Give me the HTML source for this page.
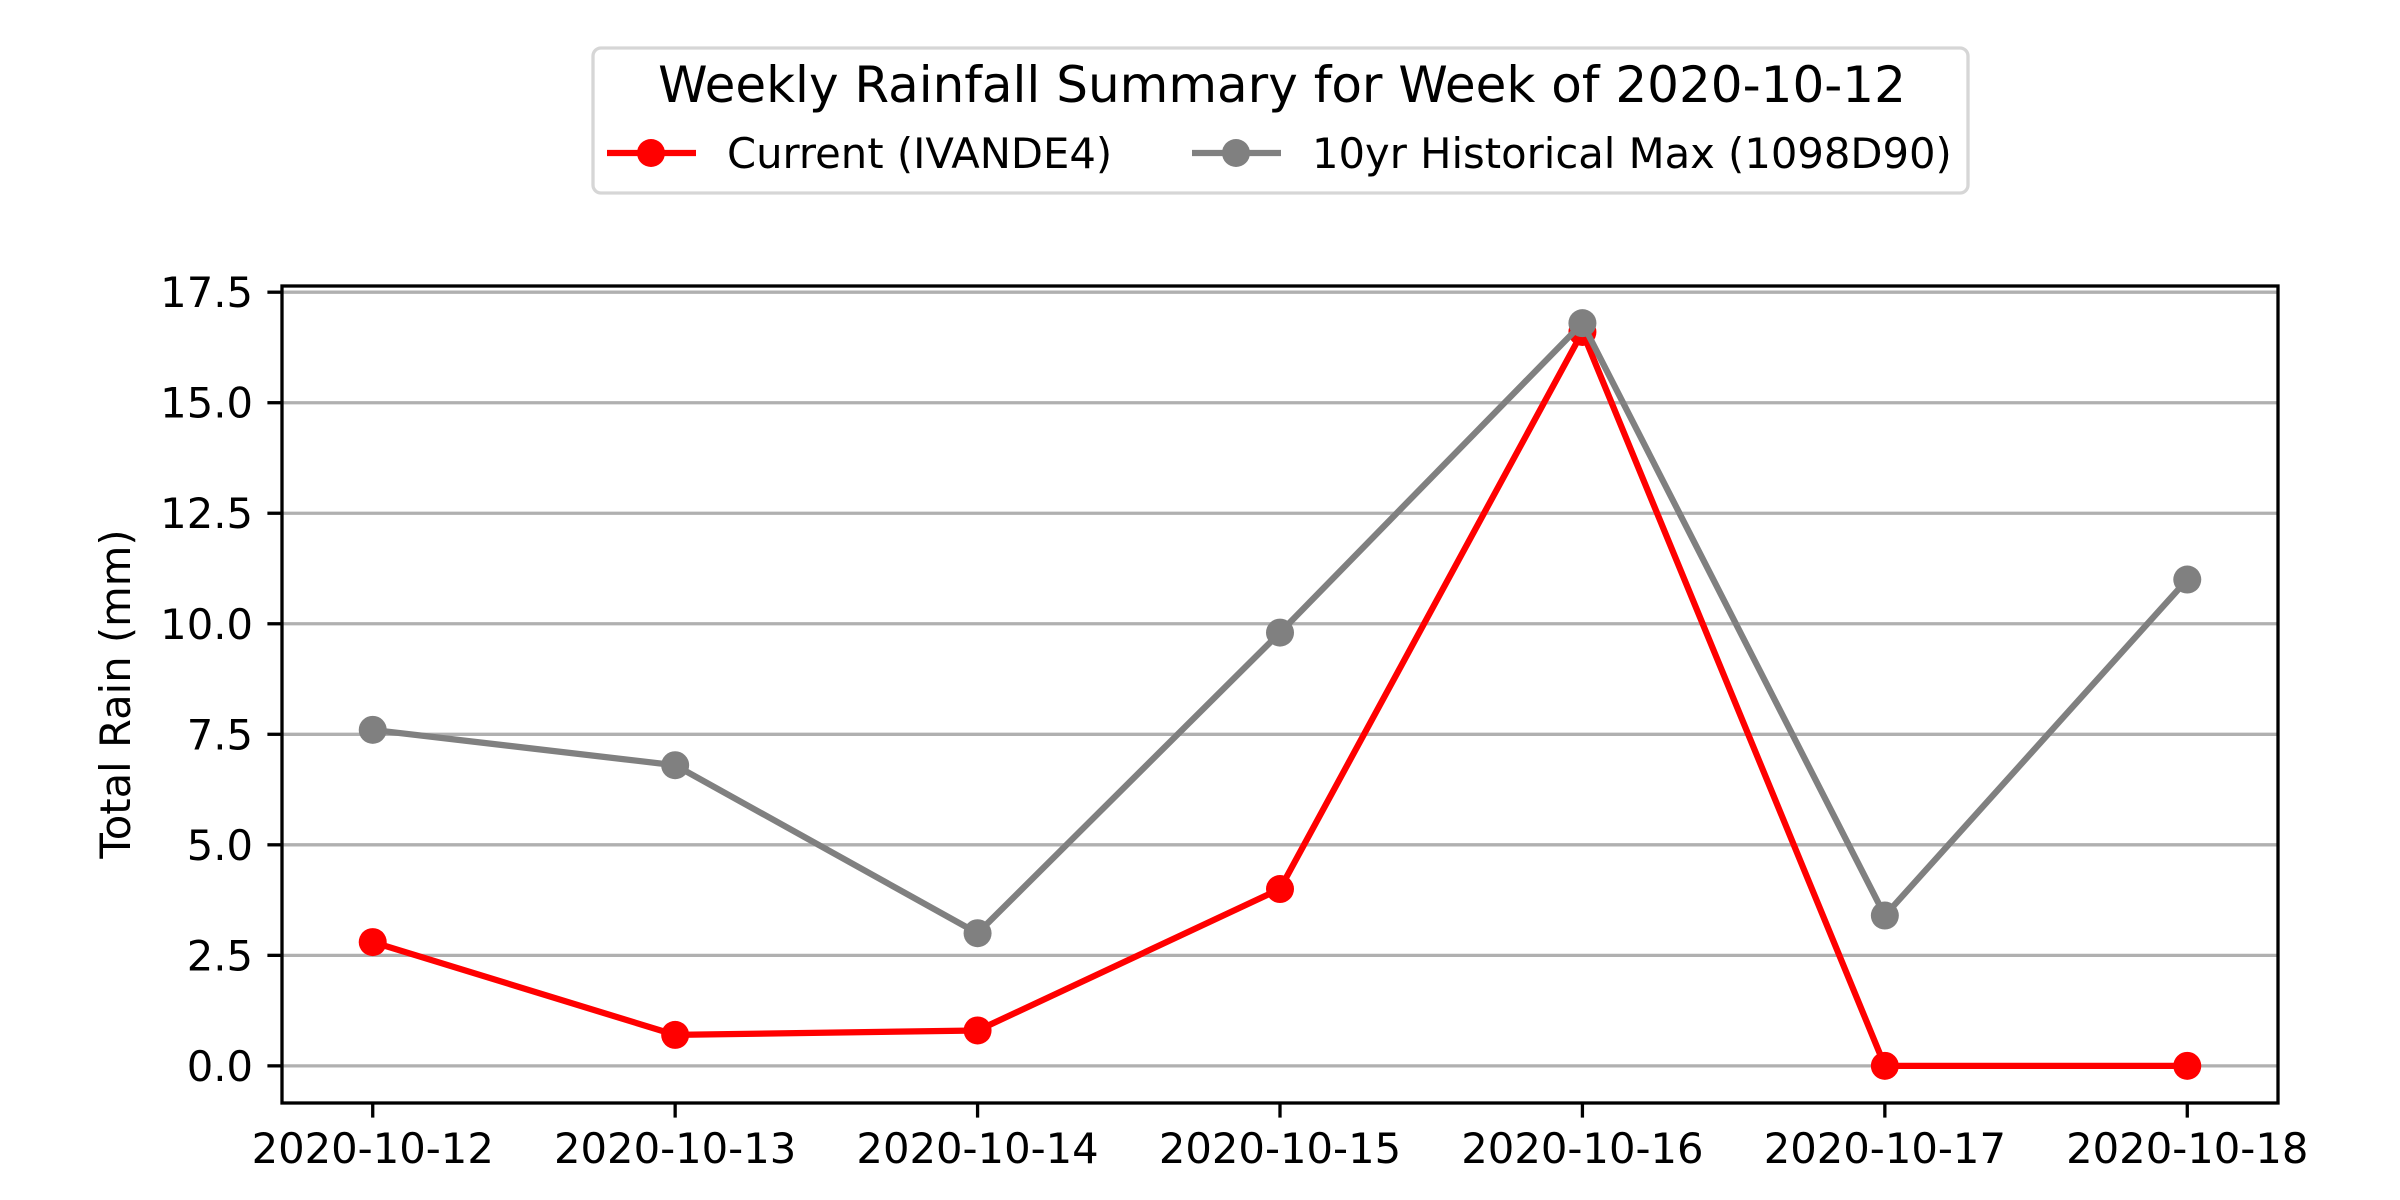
<!DOCTYPE html>
<html><head><meta charset="utf-8"><style>
html,body{margin:0;padding:0;background:#fff;}
svg{display:block;font-family:"DejaVu Sans","Liberation Sans",sans-serif;}
</style></head><body>
<svg id="chart" width="2400" height="1200" viewBox="0 0 2400 1200" xmlns="http://www.w3.org/2000/svg">
<rect width="2400" height="1200" fill="#fff"/>
<g id="grid"></g>
<g id="series"></g>
<rect x="282" y="286" width="1996" height="817" fill="none" stroke="#000" stroke-width="3.3"/>
<g id="yticks"></g>
<g id="xticks"></g>
<text x="0" y="0" transform="translate(130,694) rotate(-90)" text-anchor="middle" font-size="41.7">Total Rain (mm)</text>
<g>
<rect x="593" y="48" width="1375" height="145" rx="8" fill="#fff" stroke="#d6d6d6" stroke-width="3.3"/>
<text x="1282" y="102" text-anchor="middle" font-size="50">Weekly Rainfall Summary for Week of 2020-10-12</text>
<g>
<line x1="607" y1="153" x2="696" y2="153" stroke="#ff0000" stroke-width="6.25"/>
<circle cx="651" cy="153" r="14" fill="#ff0000"/>
<text x="727" y="168" font-size="41.7">Current (IVANDE4)</text>
</g>
<g>
<line x1="1192" y1="153" x2="1281" y2="153" stroke="#808080" stroke-width="6.25"/>
<circle cx="1236" cy="153" r="14" fill="#808080"/>
<text x="1312" y="168" font-size="41.7">10yr Historical Max (1098D90)</text>
</g>
</g>
</svg>
<script>
const categories = ["2020-10-12","2020-10-13","2020-10-14","2020-10-15","2020-10-16","2020-10-17","2020-10-18"];
const currentValues = [2.8, 0.7, 0.8, 4.0, 16.6, 0, 0];
const historicalMaxValues = [7.6, 6.8, 3.0, 9.8, 16.8, 3.4, 11.0];
const yTickValues = [0, 2.5, 5, 7.5, 10, 12.5, 15, 17.5];
const yTickLabels = ["0.0","2.5","5.0","7.5","10.0","12.5","15.0","17.5"];

const NS = "http://www.w3.org/2000/svg";
const L = 282, R = 2278, T = 286, B = 1103;
const allV = currentValues.concat(historicalMaxValues);
const vmin = Math.min(...allV), vmax = Math.max(...allV);
const pad = (vmax - vmin) * 0.05;
const y0 = vmin - pad, y1 = vmax + pad;
const n = categories.length;
const xpad = (n - 1) * 0.05;
function xs(i){ return L + (i + xpad) / (n - 1 + 2 * xpad) * (R - L); }
function ys(v){ return B - (v - y0) / (y1 - y0) * (B - T); }
function mk(tag, attrs, parent){ const e = document.createElementNS(NS, tag); for (const k in attrs) e.setAttribute(k, attrs[k]); parent.appendChild(e); return e; }

const grid = document.getElementById('grid');
const yt = document.getElementById('yticks');
yTickValues.forEach((v, i) => {
  const y = ys(v);
  const g = mk('line', {x1: L, x2: R, y1: y, y2: y, stroke: '#b0b0b0', 'stroke-width': 3.3}, grid);
  
  
  const t = mk('line', {x1: L - 14.6, x2: L, y1: y, y2: y, stroke: '#000', 'stroke-width': 3.3}, yt);
  
  
  const tx = mk('text', {x: L - 29, y: y + 15, 'text-anchor': 'end', 'font-size': 41.7}, yt);
  tx.textContent = yTickLabels[i];
  
  
});
const xt = document.getElementById('xticks');
categories.forEach((c, i) => {
  const x = xs(i);
  const t = mk('line', {x1: x, x2: x, y1: B, y2: B + 14.6, stroke: '#000', 'stroke-width': 3.3}, xt);
  
  
  const tx = mk('text', {x: x, y: B + 60, 'text-anchor': 'middle', 'font-size': 41.7}, xt);
  tx.textContent = c;
  
  
});
const sl = document.getElementById('series');
function drawSeries(vals, color, name){
  const g = mk('g', {}, sl);
  
  
  const pts = vals.map((v, i) => xs(i) + ',' + ys(v)).join(' ');
  const pl = mk('polyline', {points: pts, fill: 'none', stroke: color, 'stroke-width': 6.25, 'stroke-linejoin': 'round'}, g);
  
  
  vals.forEach((v, i) => {
    const c = mk('circle', {cx: xs(i), cy: ys(v), r: 14, fill: color}, g);
    
    
  });
}
drawSeries(currentValues, '#ff0000', 'current-series');
drawSeries(historicalMaxValues, '#808080', 'historical-max-series');
</script>
</body></html>
